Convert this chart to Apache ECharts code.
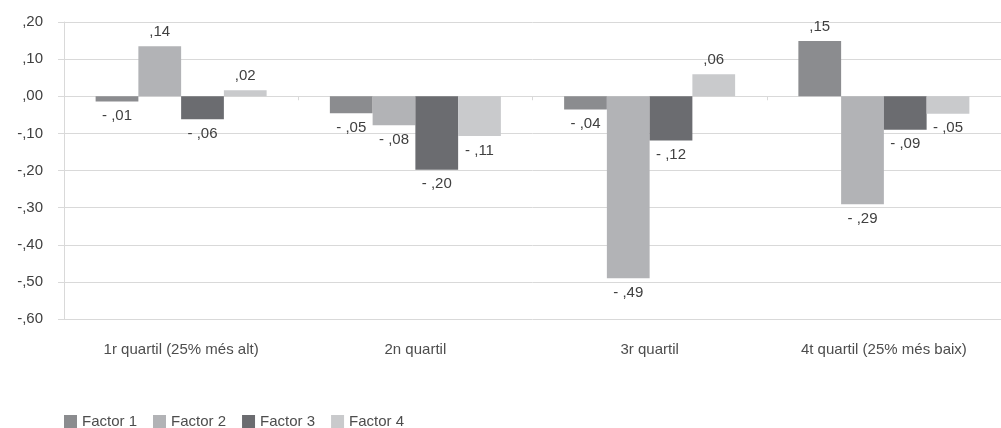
<!DOCTYPE html>
<html>
<head>
<meta charset="utf-8">
<script src="https://cdn.jsdelivr.net/npm/echarts@6/dist/echarts.min.js"></script>
<style>html,body{margin:0;padding:0;background:#fff}#c{width:1001px;height:428px}</style>
</head>
<body>
<div id="c"></div>
<script>
var categories = ['1r quartil (25% més alt)', '2n quartil', '3r quartil', '4t quartil (25% més baix)'];
var seriesNames = ['Factor 1', 'Factor 2', 'Factor 3', 'Factor 4'];
var factor1 = [-0.014, -0.046, -0.036, 0.149];
var factor2 = [0.135, -0.078, -0.490, -0.291];
var factor3 = [-0.062, -0.198, -0.119, -0.090];
var factor4 = [0.016, -0.107, 0.059, -0.047];
var colors = ['#8b8c8f', '#b2b3b6', '#6b6c70', '#c9cacc'];

function fmtAxis(v) {
  var s = Math.abs(v).toFixed(2).replace(/^0/, '').replace('.', ',');
  return (v < -1e-9 ? '-' : '') + s;
}
function fmtLabel(v) {
  var s = Math.abs(v).toFixed(2).replace(/^0/, '').replace('.', ',');
  return (v < 0 ? '- ' : '') + s;
}

var allData = [factor1, factor2, factor3, factor4];
var series = allData.map(function (arr, i) {
  return {
    name: seriesNames[i],
    type: 'bar',
    xAxisIndex: 0,
    barGap: '0%',
    barCategoryGap: '27%',
    itemStyle: { color: colors[i] },
    data: arr.map(function (v) {
      return { value: v, label: { position: v < 0 ? 'bottom' : 'top' } };
    }),
    label: {
      show: true,
      distance: 7,
      fontFamily: 'Liberation Sans',
      fontSize: 15,
      color: '#404040',
      formatter: function (p) { return fmtLabel(p.value); }
    }
  };
});

var chart = echarts.init(document.getElementById('c'), null, { renderer: 'canvas' });
chart.setOption({
  animation: false,
  textStyle: { fontFamily: 'Liberation Sans' },
  grid: { left: 64, top: 22, width: 945, height: 297, containLabel: false },
  legend: {
    data: seriesNames,
    left: 64,
    top: 414,
    padding: 0,
    icon: 'rect',
    itemWidth: 13,
    itemHeight: 13,
    itemGap: 16,
    textStyle: { fontFamily: 'Liberation Sans', fontSize: 15, color: '#4d4d4d' }
  },
  xAxis: [{
    type: 'category',
    data: categories,
    position: 'bottom',
    axisLine: { show: false, onZero: false },
    axisTick: { show: false },
    axisLabel: { fontFamily: 'Liberation Sans', fontSize: 15, color: '#4d4d4d', margin: 23 }
  }, {
    type: 'category',
    data: categories,
    position: 'bottom',
    axisLine: { show: true, onZero: true, lineStyle: { color: '#d9d9d9' } },
    axisTick: { show: true, length: 4, lineStyle: { color: '#d9d9d9' } },
    axisLabel: { show: false }
  }],
  yAxis: {
    type: 'value',
    min: -0.6,
    max: 0.2,
    interval: 0.1,
    axisLine: { show: true, lineStyle: { color: '#d9d9d9' } },
    axisTick: { show: true, length: 6, lineStyle: { color: '#d9d9d9' } },
    splitLine: { show: true, lineStyle: { color: '#d9d9d9' } },
    axisLabel: { fontFamily: 'Liberation Sans', fontSize: 15, color: '#404040', margin: 21, formatter: fmtAxis }
  },
  series: series
});
</script>
</body>
</html>
